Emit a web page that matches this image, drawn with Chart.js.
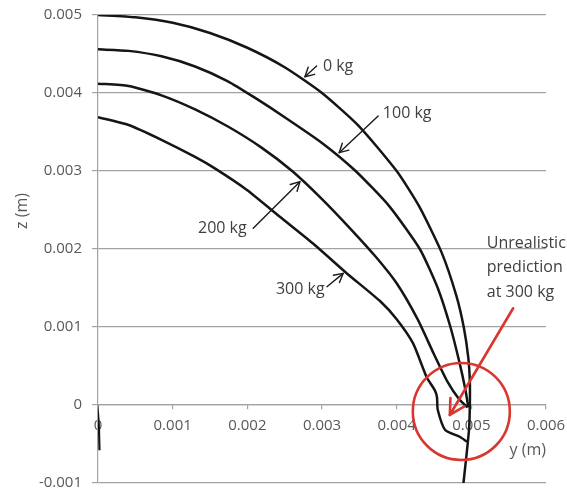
<!DOCTYPE html>
<html><head><meta charset="utf-8">
<script src="https://cdn.jsdelivr.net/npm/chart.js@4/dist/chart.umd.min.js"></script>
<style>html,body{margin:0;padding:0;background:#fff;}#wrap{width:567px;height:492px;}</style>
</head><body><div id="wrap"><canvas id="c" width="567" height="492"></canvas></div>
<script>
// ---- data (y = horizontal position, z = vertical position, metres) ----
const seriesNames = ['0 kg', '100 kg', '200 kg', '300 kg'];
const y0kg = [0, 0.0005, 0.0010, 0.0015, 0.0020, 0.0025, 0.0030, 0.0035, 0.0040, 0.0043, 0.0046, 0.0048, 0.0049, 0.00496, 0.00498, 0.00498, 0.00497, 0.00494, 0.00489];
const z0kg = [0.0050, 0.00497, 0.00490, 0.00477, 0.00458, 0.00433, 0.00400, 0.00357, 0.00300, 0.00255, 0.00196, 0.00140, 0.00099, 0.00060, 0.00030, 0.0, -0.00030, -0.00060, -0.00104];
const y100kg = [0, 0.00041, 0.00085, 0.00130, 0.00174, 0.00210, 0.00250, 0.00300, 0.00345, 0.00390, 0.00431, 0.00455, 0.00472, 0.00484, 0.00492, 0.00496];
const z100kg = [0.00456, 0.00454, 0.00447, 0.00434, 0.00415, 0.00394, 0.00369, 0.00336, 0.00300, 0.00255, 0.00200, 0.00150, 0.00100, 0.00055, 0.00020, -0.00003];
const y200kg = [0, 0.00041, 0.00085, 0.00130, 0.00174, 0.00219, 0.00260, 0.00300, 0.00340, 0.00372, 0.00400, 0.00428, 0.00450, 0.00468, 0.00484, 0.00495];
const z200kg = [0.00412, 0.00409, 0.00397, 0.00379, 0.00357, 0.00330, 0.00300, 0.00264, 0.00224, 0.00190, 0.00156, 0.00110, 0.00065, 0.00030, 0.00007, -0.00003];
const y300kg = [0, 0.00041, 0.00085, 0.00130, 0.00157, 0.00199, 0.00244, 0.00288, 0.00333, 0.00378, 0.00400, 0.00422, 0.00440, 0.00451, 0.00454, 0.00455, 0.00465, 0.00485, 0.00494];
const z300kg = [0.00369, 0.00359, 0.00340, 0.00318, 0.00303, 0.00276, 0.00241, 0.00207, 0.00169, 0.00133, 0.00110, 0.00079, 0.00036, 0.00019, 0.00010, -0.00006, -0.00032, -0.00041, -0.00047];
const yStray = [-0.00001, 0.00001, 0.00002];
const zStray = [0, -0.00024, -0.00058];
const xTickLabels = ['0', '0.001', '0.002', '0.003', '0.004', '0.005', '0.006'];
const yTickLabels = ['-0.001', '0', '0.001', '0.002', '0.003', '0.004', '0.005'];
const noteLines = ['Unrealistic', 'prediction', 'at 300 kg'];

// ---- annotation placement (data units) ----
const arrowNotes = [
  {text: seriesNames[0], at: [0.003012, 0.004346], tail: [0.002928, 0.004346], tip: [0.002771, 0.004209]},
  {text: seriesNames[1], at: [0.003815, 0.003744], tail: [0.003752, 0.003705], tip: [0.003230, 0.003235]},
  {text: seriesNames[2], at: [0.001339, 0.002269], tail: [0.002079, 0.002265], tip: [0.002704, 0.002863]},
  {text: seriesNames[3], at: [0.002383, 0.001483], tail: [0.003066, 0.001517], tip: [0.003284, 0.001688]}
];
const redNote = {textAt: [0.005207, 0.002077], lineStep: 0.000314, tail: [0.005560, 0.001240], tip: [0.004712, -0.000128], circle: [0.004866, -0.0000833], radiusPx: 48.5};

const pts = (xs, zs) => xs.map((v, i) => ({x: v, y: zs[i]}));
const FONT = '"Open Sans", "DejaVu Sans", sans-serif';
const GRID = '#a3a3a3';

function drawArrow(ctx, x1, y1, x2, y2, head, color, width) {
  ctx.save();
  ctx.strokeStyle = color; ctx.lineWidth = width; ctx.lineCap = 'round'; ctx.lineJoin = 'round';
  ctx.beginPath(); ctx.moveTo(x1, y1); ctx.lineTo(x2, y2); ctx.stroke();
  const a = Math.atan2(y2 - y1, x2 - x1);
  const s = 0.5;
  ctx.beginPath();
  ctx.moveTo(x2 - head * Math.cos(a - s), y2 - head * Math.sin(a - s));
  ctx.lineTo(x2, y2);
  ctx.lineTo(x2 - head * Math.cos(a + s), y2 - head * Math.sin(a + s));
  ctx.stroke();
  ctx.restore();
}

const notesPlugin = {
  id: 'notes',
  afterDraw(chart) {
    const ctx = chart.ctx, xs = chart.scales.x, ys = chart.scales.y;
    const P = (p) => [xs.getPixelForValue(p[0]), ys.getPixelForValue(p[1])];
    ctx.save();
    ctx.fillStyle = '#595959';
    ctx.font = '16px ' + FONT;
    ctx.translate(22, 211); ctx.rotate(-Math.PI / 2);
    ctx.textAlign = 'center'; ctx.textBaseline = 'middle';
    ctx.fillText('z (m)', 0, 0);
    ctx.restore();

    ctx.save();
    ctx.font = '16px ' + FONT;
    ctx.fillStyle = '#404040';
    ctx.textAlign = 'left'; ctx.textBaseline = 'middle';
    arrowNotes.forEach(n => {
      const t = P(n.at), a = P(n.tail), b = P(n.tip);
      ctx.fillText(n.text, t[0], t[1]);
      drawArrow(ctx, a[0], a[1], b[0], b[1], 10, '#1a1a1a', 1.4);
    });
    noteLines.forEach((s, i) => {
      const t = P([redNote.textAt[0], redNote.textAt[1] - i * redNote.lineStep]);
      ctx.fillText(s, t[0], t[1]);
    });
    const a = P(redNote.tail), b = P(redNote.tip), c = P(redNote.circle);
    drawArrow(ctx, a[0], a[1], b[0], b[1], 17, '#d9362f', 2.6);
    ctx.strokeStyle = '#d9362f'; ctx.lineWidth = 2.6;
    ctx.beginPath(); ctx.arc(c[0], c[1], redNote.radiusPx, 0, Math.PI * 2); ctx.stroke();
    ctx.restore();
  }
};

const lineStyle = {showLine: true, pointRadius: 0, borderColor: '#151515', borderWidth: 2.5, tension: 0.2, fill: false};

new Chart(document.getElementById('c'), {
  type: 'scatter',
  data: {
    datasets: [
      Object.assign({label: seriesNames[0], data: pts(y0kg, z0kg)}, lineStyle),
      Object.assign({label: seriesNames[1], data: pts(y100kg, z100kg)}, lineStyle),
      Object.assign({label: seriesNames[2], data: pts(y200kg, z200kg)}, lineStyle),
      Object.assign({label: seriesNames[3], data: pts(y300kg, z300kg)}, lineStyle),
      Object.assign({label: '', data: pts(yStray, zStray)}, lineStyle, {borderWidth: 2.2, tension: 0.3})
    ]
  },
  options: {
    responsive: false,
    animation: false,
    layout: {padding: {top: 15, bottom: 9, right: 21, left: 0}},
    plugins: {legend: {display: false}, tooltip: {enabled: false}},
    scales: {
      x: {
        type: 'linear', min: 0, max: 0.006,
        position: {y: 0},
        ticks: {stepSize: 0.001, padding: 8, color: '#595959', font: {family: FONT, size: 15},
          callback: (v) => xTickLabels[Math.round(v / 0.001)]},
        grid: {drawOnChartArea: false, drawTicks: true, tickLength: 4, color: GRID, lineWidth: 1.2},
        border: {display: true, color: GRID, width: 1.2},
        title: {display: true, text: 'y (m)', align: 'end', color: '#595959', font: {family: FONT, size: 16}, padding: {top: -2, bottom: 4}},
        afterFit: (s) => { s.paddingLeft = 0; s.paddingRight = 0; s.paddingTop = 0; s.paddingBottom = 0; }
      },
      y: {
        type: 'linear', min: -0.001, max: 0.005,
        ticks: {stepSize: 0.001, padding: 10, color: '#595959', font: {family: FONT, size: 15},
          callback: (v) => yTickLabels[Math.round(v / 0.001) + 1]},
        grid: {color: GRID, lineWidth: 1.2, tickLength: 6},
        border: {display: true, color: GRID, width: 1.2},
        afterFit: (s) => { s.width = 98; s.paddingTop = 0; s.paddingBottom = 0; s.paddingLeft = 0; s.paddingRight = 0; }
      }
    }
  },
  plugins: [notesPlugin]
});
</script></body></html>
